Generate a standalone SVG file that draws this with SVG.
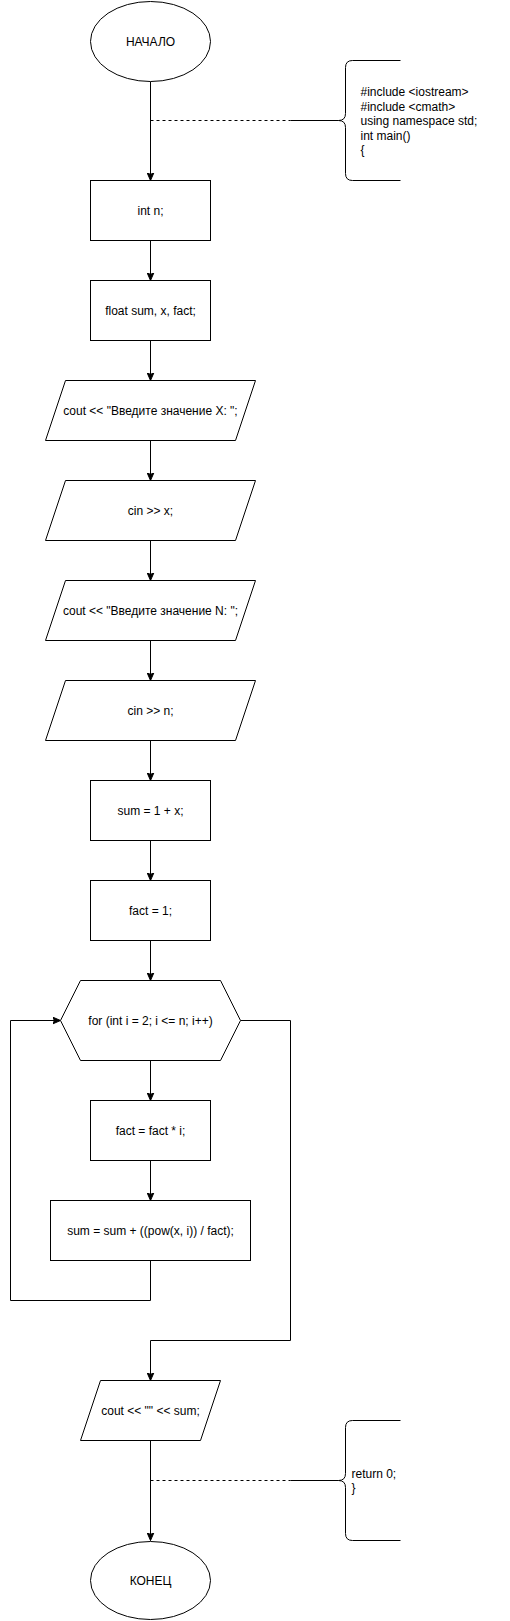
<svg xmlns="http://www.w3.org/2000/svg" width="510" height="1621" viewBox="0 0 510 1621">
<defs>
<marker id="arr" viewBox="0 0 8 8" refX="8" refY="4" markerWidth="8" markerHeight="8" orient="auto" markerUnits="userSpaceOnUse">
<path d="M0,0.5 L8,4 L0,7.5 L2,4 Z" fill="#000" stroke="#000" stroke-width="1"/>
</marker>
<style>
.s{fill:#fff;stroke:#000;stroke-width:1}
.b{fill:none;stroke:#000;stroke-width:1}
.c{fill:none;stroke:#000;stroke-width:1}
.a{marker-end:url(#arr)}
.d{stroke-dasharray:3 3}
text{font-family:"Liberation Sans",Arial,Helvetica,sans-serif;font-size:12px;fill:#000}
.m{text-anchor:middle}
</style>
</defs>
<rect x="0" y="0" width="510" height="1621" fill="#fff"/>
<g transform="translate(0.5,0.5)">
<g id="connectors">
<path class="c a" d="M150,81 L150,180"/>
<path class="c a" d="M150,240 L150,280"/>
<path class="c a" d="M150,340 L150,380"/>
<path class="c a" d="M150,440 L150,480"/>
<path class="c a" d="M150,540 L150,580"/>
<path class="c a" d="M150,640 L150,680"/>
<path class="c a" d="M150,740 L150,780"/>
<path class="c a" d="M150,840 L150,880"/>
<path class="c a" d="M150,940 L150,980"/>
<path class="c a" d="M150,1060 L150,1100"/>
<path class="c a" d="M150,1160 L150,1200"/>
<path class="c a" d="M150,1260 L150,1300 L10,1300 L10,1020 L60,1020"/>
<path class="c a" d="M240,1020 L290,1020 L290,1340 L150,1340 L150,1380"/>
<path class="c a" d="M150,1440 L150,1540"/>
<path class="c d" d="M150,120 L290,120"/>
<path class="c d" d="M150,1480 L290,1480"/>
</g>
<g id="start">
<ellipse class="s" cx="150" cy="41" rx="60" ry="40"/>
<text class="m" x="150" y="45">НАЧАЛО</text>
</g>
<g id="note1">
<path class="b" d="M290,120 L338,120"/>
<path class="b" d="M400,60 L352,60 Q345,60 345,67 L345,113 Q345,120 338,120 Q345,120 345,127 L345,173 Q345,180 352,180 L400,180"/>
<text x="360" y="95.5">#include &lt;iostream&gt;</text>
<text x="360" y="110">#include &lt;cmath&gt;</text>
<text x="360" y="124.5">using namespace std;</text>
<text x="360" y="139">int main()</text>
<text x="360" y="153.5">{</text>
</g>
<g id="intn">
<rect class="s" x="90" y="180" width="120" height="60"/>
<text class="m" x="150" y="214">int n;</text>
</g>
<g id="floatdecl">
<rect class="s" x="90" y="280" width="120" height="60"/>
<text class="m" x="150" y="314">float sum, x, fact;</text>
</g>
<g id="promptx">
<path class="s" d="M65,380 L255,380 L235,440 L45,440 Z"/>
<text class="m" x="150" y="414">cout &lt;&lt; "Введите значение X: ";</text>
</g>
<g id="cinx">
<path class="s" d="M65,480 L255,480 L235,540 L45,540 Z"/>
<text class="m" x="150" y="514">cin &gt;&gt; x;</text>
</g>
<g id="promptn">
<path class="s" d="M65,580 L255,580 L235,640 L45,640 Z"/>
<text class="m" x="150" y="614">cout &lt;&lt; "Введите значение N: ";</text>
</g>
<g id="cinn">
<path class="s" d="M65,680 L255,680 L235,740 L45,740 Z"/>
<text class="m" x="150" y="714">cin &gt;&gt; n;</text>
</g>
<g id="suminit">
<rect class="s" x="90" y="780" width="120" height="60"/>
<text class="m" x="150" y="814">sum = 1 + x;</text>
</g>
<g id="factinit">
<rect class="s" x="90" y="880" width="120" height="60"/>
<text class="m" x="150" y="914">fact = 1;</text>
</g>
<g id="loop">
<path class="s" d="M60,1020 L80,980 L220,980 L240,1020 L220,1060 L80,1060 Z"/>
<text class="m" x="150" y="1024">for (int i = 2; i &lt;= n; i++)</text>
</g>
<g id="factmul">
<rect class="s" x="90" y="1100" width="120" height="60"/>
<text class="m" x="150" y="1134">fact = fact * i;</text>
</g>
<g id="sumadd">
<rect class="s" x="50" y="1200" width="200" height="60"/>
<text class="m" x="150" y="1234">sum = sum + ((pow(x, i)) / fact);</text>
</g>
<g id="output">
<path class="s" d="M100,1380 L220,1380 L200,1440 L80,1440 Z"/>
<text class="m" x="150" y="1414">cout &lt;&lt; "" &lt;&lt; sum;</text>
</g>
<g id="note2">
<path class="b" d="M290,1480 L338,1480"/>
<path class="b" d="M400,1420 L352,1420 Q345,1420 345,1427 L345,1473 Q345,1480 338,1480 Q345,1480 345,1487 L345,1533 Q345,1540 352,1540 L400,1540"/>
<text x="351" y="1477">return 0;</text>
<text x="351" y="1491">}</text>
</g>
<g id="end">
<ellipse class="s" cx="150" cy="1580" rx="60" ry="39"/>
<text class="m" x="150" y="1584">КОНЕЦ</text>
</g>
</g>
</svg>
